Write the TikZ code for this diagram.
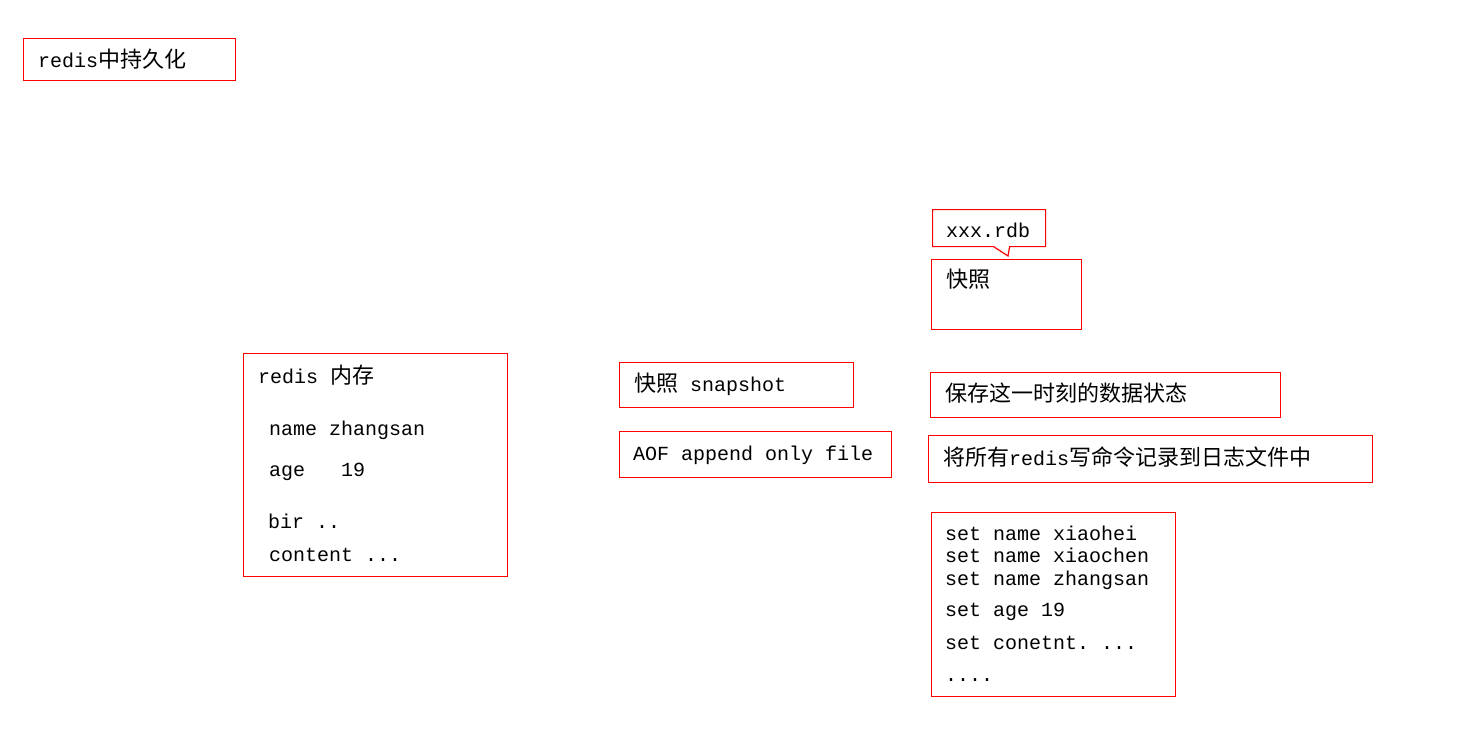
\documentclass[tikz,border=0pt]{standalone}
\usepackage{fontspec}
\setmainfont{Liberation Mono}
\newfontfamily\cjk[Scale=1.1]{Noto Sans CJK SC}
\usepackage{tikz}
\usetikzlibrary{shapes.callouts}
\frenchspacing

\tikzset{
  box/.style={draw=red, line width=1.2pt, anchor=north west, inner sep=0pt},
  txt/.style={anchor=base west, inner sep=0pt, font=\fontsize{20}{24}\selectfont},
}

\begin{document}
\begin{tikzpicture}[x=1pt,y=-1pt]
      \useasboundingbox (0,0) rectangle (1472,745);
      % boxes
      \node[box,minimum width=212,minimum height=42] (title) at (23,38) {};
      \node[box,rectangle callout,callout absolute pointer={(1008,256)},callout pointer width=16pt,
            minimum width=113,minimum height=37] (rdb) at (932,209) {};
      \node[box,minimum width=150,minimum height=70] (kz) at (931,259) {};
      \node[box,minimum width=264,minimum height=223] (mem) at (243,353) {};
      \node[box,minimum width=234,minimum height=45] (snap) at (619,362) {};
      \node[box,minimum width=272,minimum height=46] (aof) at (619,431) {};
      \node[box,minimum width=350,minimum height=45] (save) at (930,372) {};
      \node[box,minimum width=444,minimum height=47] (log) at (928,435) {};
      \node[box,minimum width=244,minimum height=184] (cmds) at (931,512) {};
      % texts
      \node[txt] (titletext) at (38,67) {redis{\cjk 中持久化}};
      \node[txt] (rdbtext) at (946,237) {xxx.rdb};
      \node[txt] (kztext) at (946,287) {{\cjk 快照}};
      \node[txt] (memtext) at (258,383) {redis {\cjk 内存}};
      \node[txt] (mem1) at (269,435) {name zhangsan};
      \node[txt] (mem2) at (269,476.5) {age~~~19};
      \node[txt] (mem3) at (268,528) {bir ..};
      \node[txt] (mem4) at (269,561) {content ...};
      \node[txt] (snaptext) at (634,391.5) {{\cjk 快照} snapshot};
      \node[txt] (aoftext) at (633,460) {AOF append only file};
      \node[txt] (savetext) at (945,401) {{\cjk 保存这一时刻的数据状态}};
      \node[txt] (logtext) at (943,465) {{\cjk 将所有}redis{\cjk 写命令记录到日志文件中}};
      \node[txt] (cmd1) at (945,540) {set name xiaohei};
      \node[txt] (cmd2) at (945,562.5) {set name xiaochen};
      \node[txt] (cmd3) at (945,585) {set name zhangsan};
      \node[txt] (cmd4) at (945,616.5) {set age 19};
      \node[txt] (cmd5) at (945,649) {set conetnt. ...};
      \node[txt] (cmd6) at (945,681.5) {....};
    \end{tikzpicture}
\end{document}
